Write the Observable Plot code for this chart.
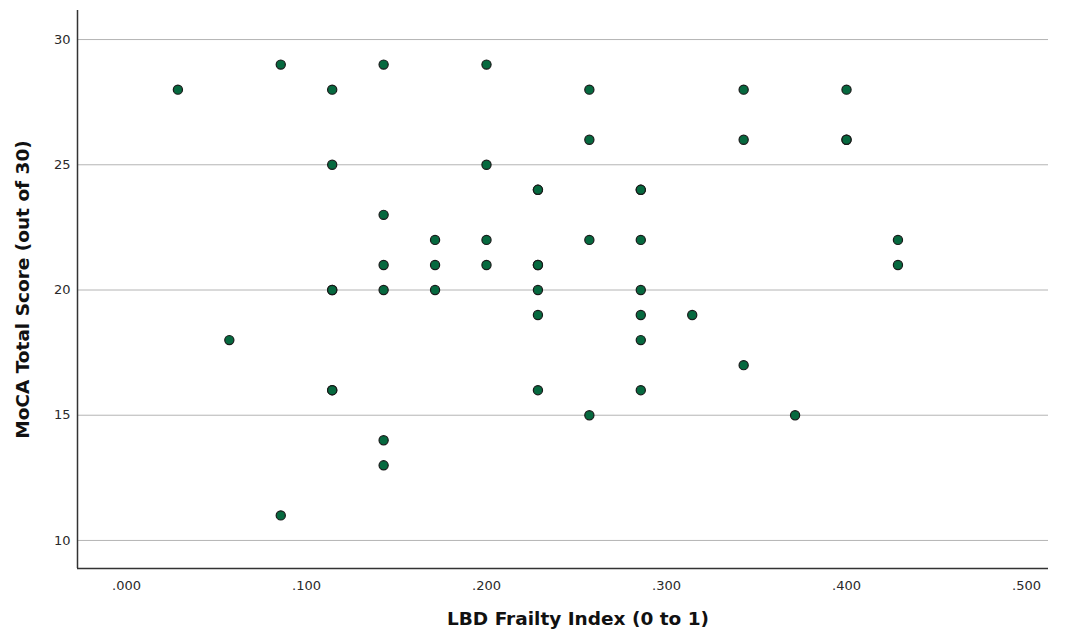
<!DOCTYPE html>
<html><head><meta charset="utf-8">
<script src="https://cdn.jsdelivr.net/npm/d3@7"></script>
<script src="https://cdn.jsdelivr.net/npm/@observablehq/plot@0.6"></script>
<style>
html,body{margin:0;padding:0;background:#fff;}
svg{display:block;}
</style>
</head><body>
<div id="chart"></div>
<script>
// Frailty index (k/35) and MoCA scores
const frailty = [
  1/35,
  2/35,
  3/35, 3/35,
  4/35, 4/35, 4/35, 4/35, 4/35, 4/35,
  5/35, 5/35, 5/35, 5/35, 5/35, 5/35,
  6/35, 6/35, 6/35,
  7/35, 7/35, 7/35, 7/35,
  8/35, 8/35, 8/35, 8/35, 8/35, 8/35, 8/35,
  9/35, 9/35, 9/35, 9/35,
  10/35, 10/35, 10/35, 10/35, 10/35, 10/35, 10/35,
  11/35,
  12/35, 12/35, 12/35,
  13/35,
  14/35, 14/35, 14/35,
  15/35, 15/35
];
const moca = [
  28,
  18,
  29, 11,
  28, 25, 20, 20, 16, 16,
  29, 23, 21, 20, 14, 13,
  22, 21, 20,
  29, 25, 22, 21,
  24, 24, 21, 21, 20, 19, 16,
  28, 26, 22, 15,
  24, 24, 22, 20, 19, 18, 16,
  19,
  28, 26, 17,
  15,
  28, 26, 26,
  22, 21
];
const xTicks = [0, 0.1, 0.2, 0.3, 0.4, 0.5];
const yTicks = [10, 15, 20, 25, 30];

const data = frailty.map((f, i) => ({frailty: f, moca: moca[i]}));
const fmtX = d => d3.format(".3f")(d).replace(/^0/, "");

const chart = Plot.plot({
  width: 1065,
  height: 635,
  marginLeft: 77,
  marginRight: 17,
  marginTop: 10,
  marginBottom: 67,
  style: {fontFamily: "DejaVu Sans, sans-serif", fontSize: "13px", color: "#2a2a2a", background: "#fff"},
  x: {domain: [-0.0272, 0.5122]},
  y: {domain: [8.88, 31.16]},
  marks: [
    Plot.gridY(yTicks, {stroke: "#b4b4b4", strokeOpacity: 1, strokeWidth: 1}),
    Plot.axisX(xTicks, {tickSize: 0, tickPadding: 12, tickFormat: fmtX, fill: "#2a2a2a", fontSize: 13,
      label: "LBD Frailty Index (0 to 1)", labelAnchor: "center", labelArrow: "none", labelOffset: 56}),
    Plot.axisY(yTicks, {tickSize: 0, tickPadding: 7, fill: "#2a2a2a", fontSize: 13,
      label: "MoCA Total Score (out of 30)", labelAnchor: "center", labelArrow: "none", labelOffset: 62}),
    Plot.ruleX([-0.0272], {stroke: "#333", strokeWidth: 1.5}),
    Plot.ruleY([8.88], {stroke: "#333", strokeWidth: 1.5}),
    Plot.dot(data, {x: "frailty", y: "moca", r: 4.6, fill: "#06693f", stroke: "#1a1a1a", strokeWidth: 1.2})
  ]
});
// style axis titles
chart.querySelectorAll("g[aria-label='x-axis label'] text, g[aria-label='y-axis label'] text").forEach(t => {
  t.setAttribute("font-weight", "bold");
  t.setAttribute("font-size", "18.5");
  t.setAttribute("fill", "#111");
});
const xl = chart.querySelector("g[aria-label='x-axis label']");
if (xl) xl.setAttribute("transform", "translate(15,0) " + (xl.getAttribute("transform") || ""));
document.getElementById("chart").appendChild(chart);
</script>
</body></html>
